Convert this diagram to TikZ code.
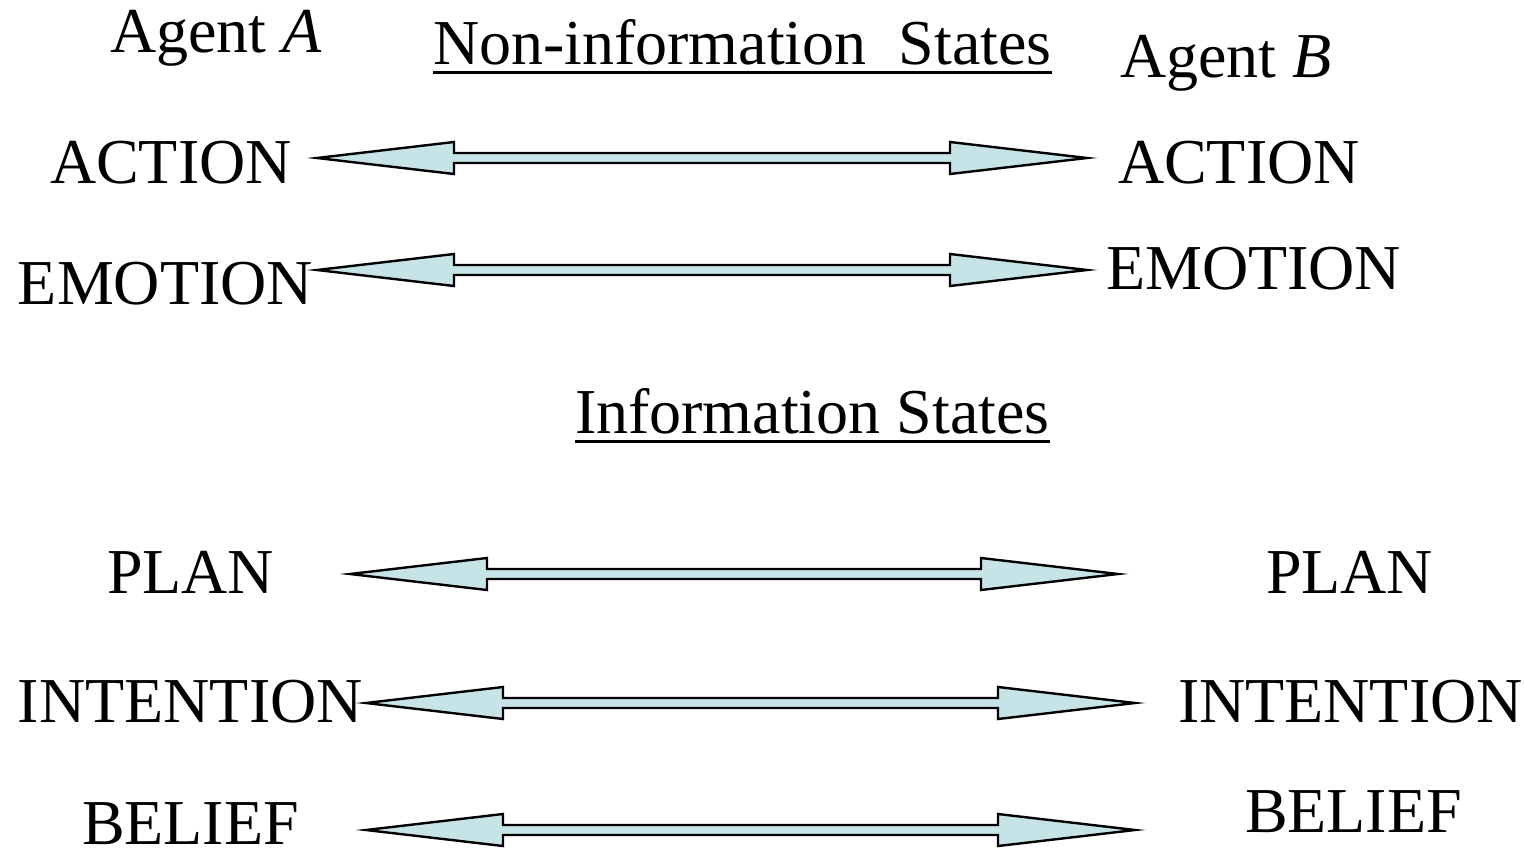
\documentclass[tikz,border=0pt]{standalone}
\usepackage{fontspec}
\setmainfont{Liberation Serif}
\usetikzlibrary{calc}
\definecolor{arrfill}{RGB}{198,228,232}
\tikzset{
  lbl/.style={anchor=base west, inner sep=0pt, outer sep=0pt, font=\fontsize{32}{38}\selectfont},
  dblarrow/.style={draw=black, line width=1.2pt, fill=arrfill, line join=miter},
  uline/.style={line width=1.5pt}
}
\newcommand{\dblarr}[2]{%
  \draw[dblarrow] (#1) -- ($(#1)+(137,-16)$) -- ($(#1)+(137,-5)$) -- ($(#2)+(-137,-5)$) -- ($(#2)+(-137,-16)$) -- (#2)
    -- ($(#2)+(-137,16)$) -- ($(#2)+(-137,5)$) -- ($(#1)+(137,5)$) -- ($(#1)+(137,16)$) -- cycle;%
}
\begin{document}
\begin{tikzpicture}[x=0.5pt,y=-0.5pt]
\useasboundingbox (0,0) rectangle (1524,850);
% headings
\node[lbl] (agA) at (110,53) {Agent \textit{A}};
\node[lbl] (agB) at (1120,78) {Agent \textit{B}};
\node[lbl] (nonInfo) at (433,65) {Non-information\ \ States};
\draw[uline] ($(nonInfo.base west)+(0,8)$) -- ($(nonInfo.base east)+(0,8)$);
\node[lbl] (info) at (575,433) {Information States};
\draw[uline] ($(info.base west)+(0,8)$) -- ($(info.base east)+(0,8)$);
% left labels
\node[lbl] (actA) at (50,184) {ACTION};
\node[lbl] (emoA) at (18,304) {EMOTION};
\node[lbl] (planA) at (107,593) {PLAN};
\node[lbl] (intA) at (18,722) {INTENTION};
\node[lbl] (belA) at (82,844) {BELIEF};
% right labels
\node[lbl] (actB) at (1118,184) {ACTION};
\node[lbl] (emoB) at (1106,289) {EMOTION};
\node[lbl] (planB) at (1266,593) {PLAN};
\node[lbl] (intB) at (1178,722) {INTENTION};
\node[lbl] (belB) at (1245,832) {BELIEF};
% arrow end points
\coordinate (a1l) at (317,158); \coordinate (a1r) at (1087,158);
\coordinate (a2l) at (317,270); \coordinate (a2r) at (1087,270);
\coordinate (a3l) at (350,574); \coordinate (a3r) at (1118,574);
\coordinate (a4l) at (366,703); \coordinate (a4r) at (1135,703);
\coordinate (a5l) at (366,830); \coordinate (a5r) at (1135,830);
\dblarr{a1l}{a1r}
\dblarr{a2l}{a2r}
\dblarr{a3l}{a3r}
\dblarr{a4l}{a4r}
\dblarr{a5l}{a5r}
\end{tikzpicture}
\end{document}
